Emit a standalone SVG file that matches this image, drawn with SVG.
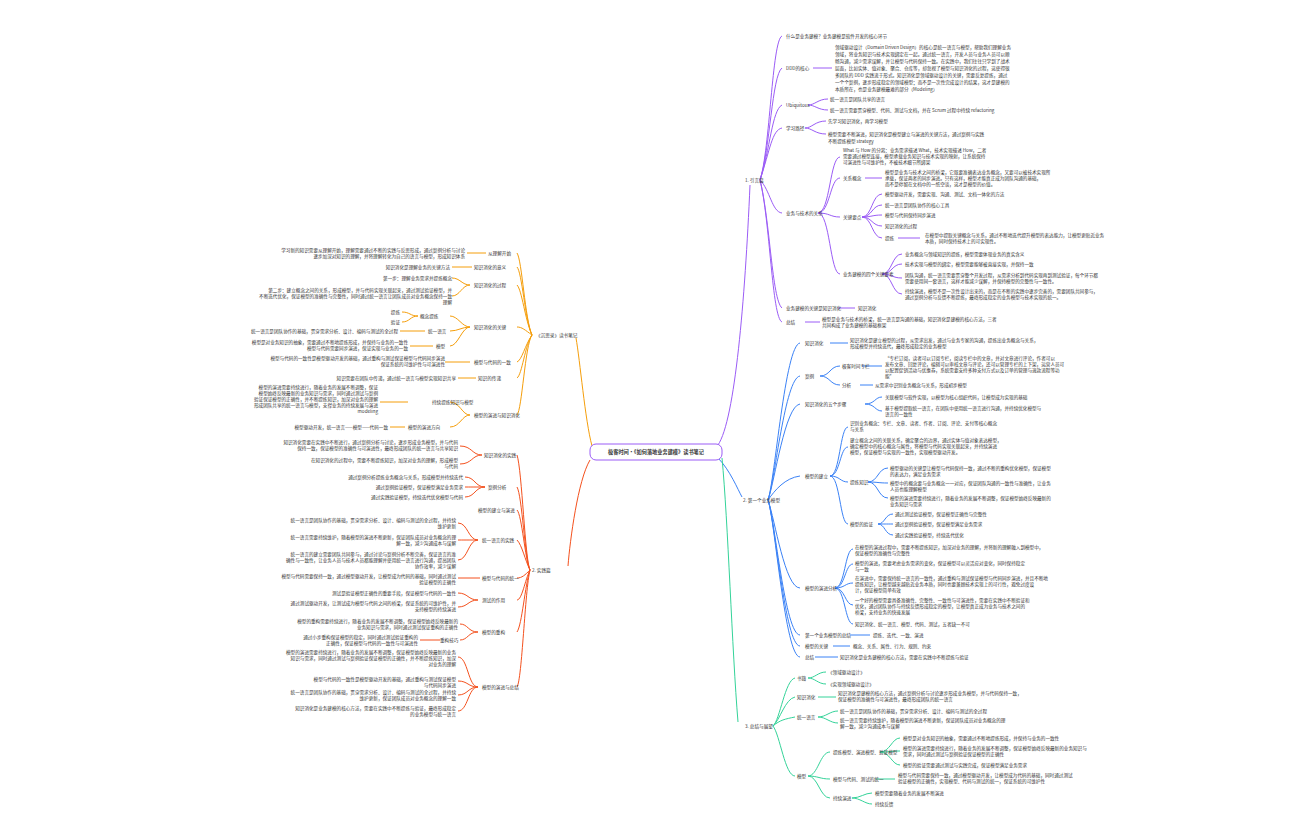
<svg xmlns="http://www.w3.org/2000/svg" width="1296" height="840" viewBox="0 0 1296 840">
<style>
text{font-family:"Noto Sans CJK SC","Liberation Sans",sans-serif;font-size:4.6px;fill:#333}
.e{text-anchor:end}
.p{stroke:#9b5cf6;fill:none;stroke-width:1}
.b{stroke:#3b82f6;fill:none;stroke-width:1}
.g{stroke:#34d399;fill:none;stroke-width:1}
.o{stroke:#f59e0b;fill:none;stroke-width:1}
.r{stroke:#f4511e;fill:none;stroke-width:1}
</style>
<rect width="1296" height="840" fill="#fff"/>
<g id="connectors">
<path class="p" d="M718 445 C735 420,745 300,750 185"/>
<path class="p" d="M760 180 C770 150,772 40,782 36 M760 180 C770 150,772 75,782 68 M760 180 C770 150,772 110,782 105 M760 180 C770 150,772 130,782 128 M760 180 C770 190,772 212,782 213 M760 180 C770 220,772 300,782 308 M760 180 C770 220,772 318,782 322"/>
<path class="p" d="M813 68 H832 M808 105 C815 105,818 99,828 99 M808 105 C815 105,818 110,828 110 M805 128 C812 128,815 121,826 121 M805 128 C812 128,815 134,826 134"/>
<path class="p" d="M818 213 C830 213,830 157,840 157 M818 213 C830 213,830 178,840 178 M818 213 C830 213,830 217,840 217 M818 213 C830 213,830 274,840 274"/>
<path class="p" d="M865 178 H882 M862 217 C872 217,872 194,882 194 M862 217 C872 217,872 205,882 205 M862 217 C872 217,872 215,882 215 M862 217 C872 217,872 226,882 226 M862 217 C872 217,872 238,882 238 M898 238 H920"/>
<path class="p" d="M882 274 C892 274,892 254,902 254 M882 274 C892 274,892 264,902 264 M882 274 C892 274,892 278,902 278 M882 274 C892 274,892 294,902 294 M838 308 H855 M805 322 H820"/>
<path class="b" d="M718 458 C730 470,738 490,742 497"/>
<path class="b" d="M768 500 C775 480,785 345,800 343 M768 500 C775 480,785 378,800 376 M768 500 C775 480,785 406,800 404 M768 500 C775 490,785 478,800 476 M768 500 C775 520,785 588,800 588 M768 500 C775 520,785 635,800 635 M768 500 C775 520,785 646,800 646 M768 500 C775 520,785 657,800 657"/>
<path class="b" d="M830 343 H848 M820 376 C830 376,830 366,840 366 M820 376 C830 376,830 385,840 385 M862 366 H882 M860 385 H873 M865 404 C875 404,875 397,882 397 M865 404 C875 404,875 411,882 411"/>
<path class="b" d="M830 476 C840 476,840 427,848 427 M830 476 C840 476,840 447,848 447 M830 476 C840 476,840 482,848 482 M830 476 C840 476,840 524,848 524"/>
<path class="b" d="M868 482 C878 482,878 468,888 468 M868 482 C878 482,878 483,888 483 M868 482 C878 482,878 498,888 498 M878 524 C885 524,885 514,893 514 M878 524 C885 524,885 524,893 524 M878 524 C885 524,885 535,893 535"/>
<path class="b" d="M835 588 C845 588,845 549,853 549 M835 588 C845 588,845 564,853 564 M835 588 C845 588,845 583,853 583 M835 588 C845 588,845 605,853 605 M835 588 C845 588,845 624,853 624 M850 635 H870 M833 646 H850 M815 657 H838"/>
<path class="g" d="M722 458 C728 520,732 650,738 722"/>
<path class="g" d="M773 726 C780 720,785 680,795 678 M773 726 C780 720,785 699,795 697 M773 726 C780 720,785 719,795 717 M773 726 C780 735,785 776,795 776"/>
<path class="g" d="M808 678 C815 678,818 672,826 672 M808 678 C815 678,818 684,826 684 M818 697 H836 M818 717 C826 717,830 711,838 711 M818 717 C826 717,830 723,838 723"/>
<path class="g" d="M808 776 C818 776,820 752,830 752 M808 776 C818 776,820 779,830 779 M808 776 C818 776,820 798,830 798 M880 752 C890 752,892 738,900 738 M880 752 C890 752,892 751,900 751 M880 752 C890 752,892 765,900 765 M876 779 H895 M852 798 C860 798,865 793,872 793 M852 798 C860 798,865 804,872 804"/>
<path class="o" d="M592 446 C585 420,580 360,576 338"/>
<path class="o" d="M532 335 C525 320,522 260,517 253 M532 335 C525 320,522 272,517 267 M532 335 C525 320,522 290,517 285 M532 335 C525 330,522 327,517 327 M532 335 C525 345,522 360,517 362 M532 335 C525 345,522 375,517 378 M532 335 C525 345,522 410,517 415"/>
<path class="o" d="M486 253 H467 M472 267 H452 M470 285 C462 285,460 278,452 278 M470 285 C462 285,460 296,452 296 M470 327 C462 327,458 316,450 316 M470 327 C462 327,458 331,450 331 M470 327 C462 327,458 346,450 346 M418 316 C410 316,410 312,402 312 M418 316 C410 316,410 322,402 322 M425 331 H400 M433 346 H410 M470 362 H445 M476 378 H458"/>
<path class="o" d="M470 415 C462 415,460 402,450 402 M470 415 C462 415,460 427,450 427 M408 402 H380 M405 427 H390"/>
<path class="r" d="M590 460 C578 480,570 540,568 566"/>
<path class="r" d="M530 570 C525 560,522 470,517 455 M530 570 C525 560,522 495,517 487 M530 570 C525 560,522 515,517 510 M530 570 C525 560,522 545,517 540 M530 570 C525 575,522 578,517 578 M530 570 C525 580,522 600,517 600 M530 570 C525 585,522 625,517 632 M530 570 C525 590,522 680,517 687"/>
<path class="r" d="M482 455 C472 455,472 446,460 446 M482 455 C472 455,472 464,460 464 M485 487 C475 487,475 477,465 477 M485 487 C475 487,475 487,465 487 M485 487 C475 487,475 497,465 497 M478 540 C468 540,468 523,458 523 M478 540 C468 540,468 540,458 540 M478 540 C468 540,468 560,458 560 M480 578 H458 M478 600 C468 600,468 593,458 593 M478 600 C468 600,468 607,458 607"/>
<path class="r" d="M478 632 C468 632,468 624,460 624 M478 632 C468 632,468 640,460 640 M440 640 H420 M478 687 C468 687,468 657,458 657 M478 687 C468 687,468 681,458 681 M478 687 C468 687,468 695,458 695 M478 687 C468 687,468 711,458 711"/>
</g>
<g id="center"><rect x="590" y="444" width="132" height="16" rx="6" fill="#fff" stroke="#9b5cf6" stroke-width="1"/><text x="656" y="454" text-anchor="middle" style="font-size:5.2px;font-weight:bold">极客时间·《如何落地业务建模》读书笔记</text></g>
<g id="n-right1">
<text x="745" y="182">1. 引言篇</text>
<text x="786" y="38">什么是业务建模？业务建模是软件开发的核心环节</text>
<text x="786" y="70">DDD的核心</text>
<text x="835" y="49">领域驱动设计（Domain Driven Design）的核心是统一语言与模型，帮助我们理解业务</text><text x="835" y="56">领域，将业务知识与技术实现绑定在一起。通过统一语言，开发人员与业务人员可以顺</text><text x="835" y="63">畅沟通，减少需求误解，并让模型与代码保持一致。在实践中，我们往往只学到了战术</text><text x="835" y="70">层面，比如实体、值对象、聚合、仓库等，却忽视了模型与知识消化的过程，这使得很</text><text x="835" y="77">多团队的 DDD 实践流于形式。知识消化是领域驱动设计的关键，需要反复提炼，通过</text><text x="835" y="84">一个个案例，逐步形成稳定的领域模型；而不是一次性完成设计的结果，这才是建模的</text><text x="835" y="91">本质所在，也是业务建模最难的部分（Modeling）</text>
<text x="786" y="107">Ubiquitous</text><text x="830" y="101">统一语言是团队共享的语言</text><text x="830" y="112">统一语言需要贯穿模型、代码、测试与文档，并在 Scrum 过程中持续 refactoring</text>
<text x="786" y="130">学习路径</text><text x="828" y="123">先学习知识消化，再学习模型</text><text x="828" y="136">模型需要不断演进，知识消化是模型建立与演进的关键方法，通过案例与实践</text><text x="828" y="143">不断提炼模型 strategy</text>
<text x="786" y="215">业务与技术的关系</text>
<text x="843" y="152">What 与 How 的分离：业务需求描述 What，技术实现描述 How，二者</text><text x="843" y="158">需要通过模型连接，模型承载业务知识与技术实现的映射，让系统保持</text><text x="843" y="164">可演进性与可维护性，不被技术细节所绑架</text>
<text x="843" y="180">关系概念</text><text x="885" y="174">模型是业务与技术之间的桥梁，它既要准确表达业务概念，又要可以被技术实现所</text><text x="885" y="180">承载，保证两者的同步演进。只有这样，模型才能真正成为团队沟通的基础，</text><text x="885" y="186">而不是停留在文档中的一纸空谈，这才是模型的价值。</text>
<text x="843" y="219">关键要点</text><text x="885" y="196">模型驱动开发，需要实现、沟通、测试、文档一体化的方法</text><text x="885" y="207">统一语言是团队协作的核心工具</text><text x="885" y="217">模型与代码保持同步演进</text><text x="885" y="228">知识消化的过程</text><text x="885" y="240">提炼</text><text x="925" y="237">在模型中提取关键概念与关系，通过不断地迭代提升模型的表达能力，让模型更贴近业务</text><text x="925" y="243">本质，同时保持技术上的可实现性。</text>
<text x="843" y="276">业务建模的四个关键要素</text><text x="905" y="256">业务概念与领域知识的提炼，模型需要体现业务的真实含义</text><text x="905" y="266">技术实现与模型的绑定，模型需要能够被直接实现，并保持一致</text><text x="905" y="277">团队沟通，统一语言需要贯穿整个开发过程，从需求分析到代码实现再到测试验证，每个环节都</text><text x="905" y="283">需要使用同一套语言，这样才能减少误解，并保持模型的完整性与一致性。</text><text x="905" y="293">持续演进，模型不是一次性设计出来的，而是在不断的实践中逐步完善的，需要团队共同参与，</text><text x="905" y="299">通过案例分析与反馈不断提炼，最终形成稳定的业务模型与技术实现的统一。</text>
<text x="786" y="310">业务建模的关键是知识消化</text><text x="858" y="310">知识消化</text>
<text x="786" y="324">总结</text><text x="822" y="321">模型是业务与技术的桥梁，统一语言是沟通的基础，知识消化是建模的核心方法，三者</text><text x="822" y="327">共同构成了业务建模的基础框架</text>
</g>
<g id="n-right2">
<text x="743" y="502">2. 第一个业务模型</text>
<text x="805" y="345">知识消化</text><text x="850" y="342">知识消化是建立模型的过程，从需求出发，通过与业务专家的沟通，提炼出业务概念与关系，</text><text x="850" y="348">形成模型并持续迭代，最终形成稳定的业务模型</text>
<text x="805" y="378">案例</text><text x="842" y="368">极客时间专栏</text><text x="885" y="360">“专栏订阅，读者可以订阅专栏，阅读专栏中的文章，并对文章进行评论，作者可以</text><text x="885" y="366">发布文章、回复评论，编辑可以审核文章与评论，还可以管理专栏的上下架，运营人员可</text><text x="885" y="372">以配置促销活动与优惠券，系统需要支持多种支付方式以及订单的管理与退款流程等功</text><text x="885" y="378">能”</text><text x="842" y="387">分析</text><text x="875" y="387">从需求中识别业务概念与关系，形成初步模型</text>
<text x="805" y="406">知识消化的五个步骤</text><text x="885" y="399">关联模型与软件实现，以模型为核心组织代码，让模型成为实现的基础</text><text x="885" y="410">基于模型提取统一语言，在团队中使用统一语言进行沟通，并持续优化模型与</text><text x="885" y="416">语言的一致性</text>
<text x="805" y="478">模型的建立</text>
<text x="850" y="425">识别业务概念：专栏、文章、读者、作者、订阅、评论、支付等核心概念</text><text x="850" y="431">与关系</text>
<text x="850" y="442">建立概念之间的关联关系，确定聚合的边界，通过实体与值对象表达模型，</text><text x="850" y="448">确定模型中的核心概念与属性，将模型与代码实现关联起来，并持续演进</text><text x="850" y="454">模型，保证模型与实现的一致性，实现模型驱动开发。</text>
<text x="850" y="484">提炼知识</text><text x="890" y="470">模型驱动的关键是让模型与代码保持一致，通过不断的重构优化模型，保证模型</text><text x="890" y="476">的表达力，满足业务需求</text><text x="890" y="485">模型中的概念要与业务概念一一对应，保证团队沟通的一致性与准确性，让业务</text><text x="890" y="491">人员也能理解模型</text><text x="890" y="500">模型的演进需要持续进行，随着业务的发展不断调整，保证模型始终反映最新的</text><text x="890" y="506">业务知识与需求</text>
<text x="850" y="526">模型的验证</text><text x="895" y="516">通过测试验证模型，保证模型正确性与完整性</text><text x="895" y="526">通过案例验证模型，保证模型满足业务需求</text><text x="895" y="537">通过实践验证模型，持续迭代优化</text>
<text x="805" y="590">模型的演进分析</text>
<text x="855" y="549">在模型的演进过程中，需要不断提炼知识，加深对业务的理解，并将新的理解融入到模型中，</text><text x="855" y="555">保证模型的准确性与完整性</text>
<text x="855" y="565">模型的演进，需要考虑业务需求的变化，保证模型可以灵活应对变化，同时保持稳定</text><text x="855" y="571">与一致</text>
<text x="855" y="580">在演进中，需要保持统一语言的一致性，通过重构与测试保证模型与代码同步演进，并且不断地</text><text x="855" y="586">提炼知识，让模型越来越贴近业务本质，同时也要兼顾技术实现上的可行性，避免过度设</text><text x="855" y="592">计，保证模型简单有效</text>
<text x="855" y="602">一个好的模型需要具备准确性、完整性、一致性与可演进性，需要在实践中不断验证和</text><text x="855" y="608">优化，通过团队协作与持续反馈形成稳定的模型，让模型真正成为业务与技术之间的</text><text x="855" y="614">桥梁，支持业务的快速发展</text>
<text x="855" y="626">知识消化、统一语言、模型、代码、测试，五者缺一不可</text>
<text x="805" y="637">第一个业务模型的总结</text><text x="873" y="637">提炼、迭代、一致、演进</text>
<text x="805" y="648">模型的关键</text><text x="853" y="648">概念、关系、属性、行为、规则、约束</text>
<text x="805" y="659">总结</text><text x="840" y="659">知识消化是业务建模的核心方法，需要在实践中不断提炼与验证</text>
</g>
<g id="n-right3">
<text x="745" y="728">3. 总结与展望</text>
<text x="797" y="680">书籍</text><text x="828" y="674">《领域驱动设计》</text><text x="828" y="686">《实现领域驱动设计》</text>
<text x="797" y="699">知识消化</text><text x="838" y="695">知识消化是建模的核心方法，通过案例分析与讨论逐步形成业务模型，并与代码保持一致，</text><text x="838" y="701">保证模型的准确性与可演进性，最终形成团队的统一语言</text>
<text x="797" y="719">统一语言</text><text x="840" y="713">统一语言是团队协作的基础，贯穿需求分析、设计、编码与测试的全过程</text><text x="840" y="722">统一语言需要持续维护，随着模型的演进不断更新，保证团队成员对业务概念的理</text><text x="840" y="728">解一致，减少沟通成本与误解</text>
<text x="797" y="778">模型</text><text x="833" y="754">提炼模型、演进模型、验证模型</text><text x="903" y="740">模型是对业务知识的抽象，需要通过不断地提炼形成，并保持与业务的一致性</text><text x="903" y="750">模型的演进需要持续进行，随着业务的发展不断调整，保证模型始终反映最新的业务知识与</text><text x="903" y="756">需求，同时通过测试与案例验证保证模型的正确性</text><text x="903" y="767">模型的验证需要通过测试与实践完成，保证模型满足业务需求</text>
<text x="833" y="781">模型与代码、测试的统一</text><text x="898" y="777">模型与代码需要保持一致，通过模型驱动开发，让模型成为代码的基础，同时通过测试</text><text x="898" y="783">验证模型的正确性，实现模型、代码与测试的统一，保证系统的可维护性</text>
<text x="833" y="800">持续演进</text><text x="875" y="795">模型需要随着业务的发展不断演进</text><text x="875" y="806">持续反馈</text>
</g>
<g id="n-left1">
<text x="536" y="337">《沉思录》读书笔记</text>
<text x="488" y="255">从理解开始</text><text x="465" y="252" class="e">学习新的知识需要从理解开始，理解需要通过不断的实践与反思形成，通过案例分析与讨论</text><text x="465" y="258" class="e">逐步加深对知识的理解，并将理解转化为自己的语言与模型，形成知识体系</text>
<text x="474" y="269">知识消化的意义</text><text x="450" y="269" class="e">知识消化是理解业务的关键方法</text>
<text x="474" y="287">知识消化的过程</text><text x="452" y="280" class="e">第一步：理解业务需求并提炼概念</text><text x="452" y="292" class="e">第二步：建立概念之间的关系，形成模型，并与代码实现关联起来，通过测试验证模型，并</text><text x="452" y="298" class="e">不断迭代优化，保证模型的准确性与完整性，同时通过统一语言让团队成员对业务概念保持一致</text><text x="452" y="304" class="e">理解</text>
<text x="474" y="329">知识消化的关键</text><text x="420" y="318">概念提炼</text><text x="400" y="314" class="e">提炼</text><text x="400" y="324" class="e">验证</text><text x="428" y="333">统一语言</text><text x="398" y="333" class="e">统一语言是团队协作的基础，贯穿需求分析、设计、编码与测试的全过程</text><text x="436" y="348">模型</text><text x="408" y="344" class="e">模型是对业务知识的抽象，需要通过不断地提炼形成，并保持与业务的一致性</text><text x="408" y="350" class="e">模型与代码需要同步演进，保证实现与业务的一致</text>
<text x="474" y="364">模型与代码的一致</text><text x="445" y="360" class="e">模型与代码的一致性是模型驱动开发的基础，通过重构与测试保证模型与代码同步演进</text><text x="445" y="366" class="e">保证系统的可维护性与可演进性</text>
<text x="478" y="380">知识的传递</text><text x="456" y="380" class="e">知识需要在团队中传递，通过统一语言与模型实现知识共享</text>
<text x="474" y="417">模型的演进与知识消化</text><text x="432" y="404">持续提炼知识与模型</text><text x="378" y="389" class="e">模型的演进需要持续进行，随着业务的发展不断调整，保证</text><text x="378" y="395" class="e">模型始终反映最新的业务知识与需求，同时通过测试与案例</text><text x="378" y="401" class="e">验证保证模型的正确性，并不断提炼知识，加深对业务的理解</text><text x="378" y="407" class="e">形成团队共享的统一语言与模型，支撑业务的持续发展与演进</text><text x="378" y="413" class="e">modeling</text><text x="408" y="429">模型的演进方向</text><text x="388" y="429" class="e">模型驱动开发，统一语言——模型——代码一致</text>
</g>
<g id="n-left2">
<text x="532" y="572">2. 实践篇</text>
<text x="484" y="457">知识消化的实践</text><text x="458" y="444" class="e">知识消化需要在实践中不断进行，通过案例分析与讨论，逐步形成业务模型，并与代码</text><text x="458" y="450" class="e">保持一致，保证模型的准确性与可演进性，最终形成团队的统一语言与共享知识</text><text x="458" y="462" class="e">在知识消化的过程中，需要不断提炼知识，加深对业务的理解，形成模型</text><text x="458" y="468" class="e">与代码</text>
<text x="488" y="489">案例分析</text><text x="463" y="479" class="e">通过案例分析提炼业务概念与关系，形成模型并持续迭代</text><text x="463" y="489" class="e">通过案例验证模型，保证模型满足业务需求</text><text x="463" y="499" class="e">通过实践验证模型，持续迭代优化模型与代码</text>
<text x="478" y="512">模型的建立与演进</text>
<text x="482" y="542">统一语言的实践</text><text x="456" y="522" class="e">统一语言是团队协作的基础，贯穿需求分析、设计、编码与测试的全过程，并持续</text><text x="456" y="528" class="e">维护更新</text><text x="456" y="539" class="e">统一语言需要持续维护，随着模型的演进不断更新，保证团队成员对业务概念的理</text><text x="456" y="545" class="e">解一致，减少沟通成本与误解</text><text x="456" y="556" class="e">统一语言的建立需要团队共同参与，通过讨论与案例分析不断完善，保证语言的准</text><text x="456" y="562" class="e">确性与一致性，让业务人员与技术人员都能理解并使用统一语言进行沟通，提高团队</text><text x="456" y="568" class="e">协作效率，减少误解</text>
<text x="482" y="580">模型与代码的统一</text><text x="456" y="578" class="e">模型与代码需要保持一致，通过模型驱动开发，让模型成为代码的基础，同时通过测试</text><text x="456" y="584" class="e">验证模型的正确性</text>
<text x="482" y="602">测试的作用</text><text x="456" y="595" class="e">测试是验证模型正确性的重要手段，保证模型与代码的一致性</text><text x="456" y="605" class="e">通过测试驱动开发，让测试成为模型与代码之间的桥梁，保证系统的可维护性，并</text><text x="456" y="611" class="e">支持模型的持续演进</text>
<text x="482" y="634">模型的重构</text><text x="458" y="623" class="e">模型的重构需要持续进行，随着业务的发展不断调整，保证模型始终反映最新的</text><text x="458" y="629" class="e">业务知识与需求，同时通过测试保证重构的正确性</text><text x="440" y="642">重构技巧</text><text x="418" y="639" class="e">通过小步重构保证模型的稳定，同时通过测试验证重构的</text><text x="418" y="645" class="e">正确性，保证模型与代码的一致性与可演进性</text>
<text x="482" y="689">模型的演进与总结</text><text x="456" y="654" class="e">模型的演进需要持续进行，随着业务的发展不断调整，保证模型始终反映最新的业务</text><text x="456" y="660" class="e">知识与需求，同时通过测试与案例验证保证模型的正确性，并不断提炼知识，加深</text><text x="456" y="666" class="e">对业务的理解</text><text x="456" y="681" class="e">模型与代码的一致性是模型驱动开发的基础，通过重构与测试保证模型</text><text x="456" y="687" class="e">与代码同步演进</text><text x="456" y="694" class="e">统一语言是团队协作的基础，贯穿需求分析、设计、编码与测试的全过程，并持续</text><text x="456" y="700" class="e">维护更新，保证团队成员对业务概念的理解一致</text><text x="456" y="710" class="e">知识消化是业务建模的核心方法，需要在实践中不断提炼与验证，最终形成稳定</text><text x="456" y="716" class="e">的业务模型与统一语言</text>
</g>
</svg>
